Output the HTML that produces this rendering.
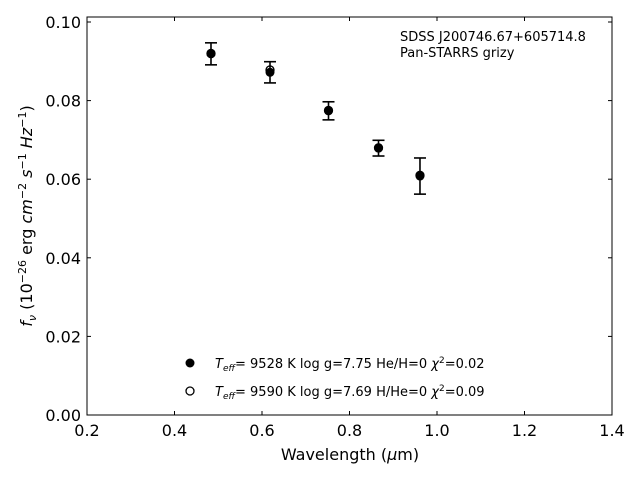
<!DOCTYPE html>
<html><head><meta charset="utf-8"><style>
body{margin:0;background:#fff}
svg{display:block;font-family:"DejaVu Sans",sans-serif}
</style></head><body>
<svg id="chart" width="640" height="480" viewBox="0 0 640 480" xmlns="http://www.w3.org/2000/svg">
<rect x="87" y="17" width="525" height="398" fill="#fff" stroke="#000" stroke-width="1"/>
<g id="ticks"></g>
<g id="marks"></g>
<text x="350" y="460" font-size="16" text-anchor="middle">Wavelength (<tspan font-style="italic">μ</tspan>m)</text>
<text transform="translate(32,216) rotate(-90)" font-size="16" text-anchor="middle"><tspan font-style="italic">f</tspan><tspan font-style="italic" font-size="11" dy="4">ν</tspan><tspan dy="-4"> (10</tspan><tspan font-size="11" dy="-6">−26</tspan><tspan dy="6"> erg </tspan><tspan font-style="italic">cm</tspan><tspan font-size="11" dy="-6">−2</tspan><tspan dy="6" font-style="italic"> s</tspan><tspan font-size="11" dy="-6">−1</tspan><tspan dy="6" font-style="italic"> Hz</tspan><tspan font-size="11" dy="-6">−1</tspan><tspan dy="6">)</tspan></text>
<text x="400" y="41" font-size="13">SDSS J200746.67+605714.8</text>
<text x="400" y="57" font-size="13">Pan-STARRS grizy</text>
<g font-size="13">
<circle cx="190" cy="363" r="4.5" fill="#000"/>
<text x="215" y="368"><tspan font-style="italic">T</tspan><tspan font-style="italic" font-size="9" dy="3">eff</tspan><tspan dy="-3">=  9528 K  log g=7.75  He/H=0  </tspan><tspan font-style="italic">χ</tspan><tspan font-size="9" dy="-5">2</tspan><tspan dy="5">=0.02</tspan></text>
<circle cx="190" cy="391" r="4" fill="#fff" stroke="#000" stroke-width="1.3"/>
<text x="215" y="396"><tspan font-style="italic">T</tspan><tspan font-style="italic" font-size="9" dy="3">eff</tspan><tspan dy="-3">=  9590 K  log g=7.69  H/He=0  </tspan><tspan font-style="italic">χ</tspan><tspan font-size="9" dy="-5">2</tspan><tspan dy="5">=0.09</tspan></text>
</g>
</svg>
<script>
const wavelengths=[0.4834,0.6183,0.752,0.8663,0.9611];
const observedFlux=[0.0919,0.0872,0.0774,0.0679,0.0608];
const fluxErrors=[0.0028,0.0027,0.0023,0.0020,0.0046];
const modelFlux=[0.0920,0.0878,0.0775,0.0680,0.0610];
const xTicks=[0.2,0.4,0.6,0.8,1.0,1.2,1.4];
const yTicks=[0,0.02,0.04,0.06,0.08,0.10];
const xTickLabels=["0.2","0.4","0.6","0.8","1.0","1.2","1.4"];
const yTickLabels=["0.00","0.02","0.04","0.06","0.08","0.10"];
const NS="http://www.w3.org/2000/svg";
const L=87,R=612,T=17,B=415;
const xs=v=>L+(v-0.2)/1.2*(R-L);
const ys=v=>B-v*3930;
function mk(tag,attrs,parent){const e=document.createElementNS(NS,tag);for(const k in attrs)e.setAttribute(k,attrs[k]);parent.appendChild(e);return e;}
const tg=document.getElementById('ticks'),mg=document.getElementById('marks');
xTicks.forEach((v,i)=>{const x=xs(v);
let t=mk('line',{x1:x,x2:x,y1:B,y2:B-4,stroke:'#000'},tg);
t=mk('line',{x1:x,x2:x,y1:T,y2:T+4,stroke:'#000'},tg);
const l=mk('text',{x:x,y:B+21,'font-size':16,'text-anchor':'middle'},tg);l.textContent=xTickLabels[i];});
yTicks.forEach((v,i)=>{const y=ys(v);
let t=mk('line',{x1:L,x2:L+4,y1:y,y2:y,stroke:'#000'},tg);
t=mk('line',{x1:R,x2:R-4,y1:y,y2:y,stroke:'#000'},tg);
const l=mk('text',{x:L-6,y:y+6,'font-size':16,'text-anchor':'end'},tg);l.textContent=yTickLabels[i];});
wavelengths.forEach((w,i)=>{const x=xs(w);
const o=mk('circle',{cx:x,cy:ys(modelFlux[i]),r:4,fill:'#fff',stroke:'#000','stroke-width':1.3},mg);
const y1=ys(observedFlux[i]+fluxErrors[i]),y2=ys(observedFlux[i]-fluxErrors[i]);
const g=mk('g',{stroke:'#000','stroke-width':1.6},mg);
mk('line',{x1:x,x2:x,y1:y1,y2:y2},g);mk('line',{x1:x-6,x2:x+6,y1:y1,y2:y1},g);mk('line',{x1:x-6,x2:x+6,y1:y2,y2:y2},g);
const c=mk('circle',{cx:x,cy:ys(observedFlux[i]),r:4.5,fill:'#000'},mg);});
</script>
</body></html>
